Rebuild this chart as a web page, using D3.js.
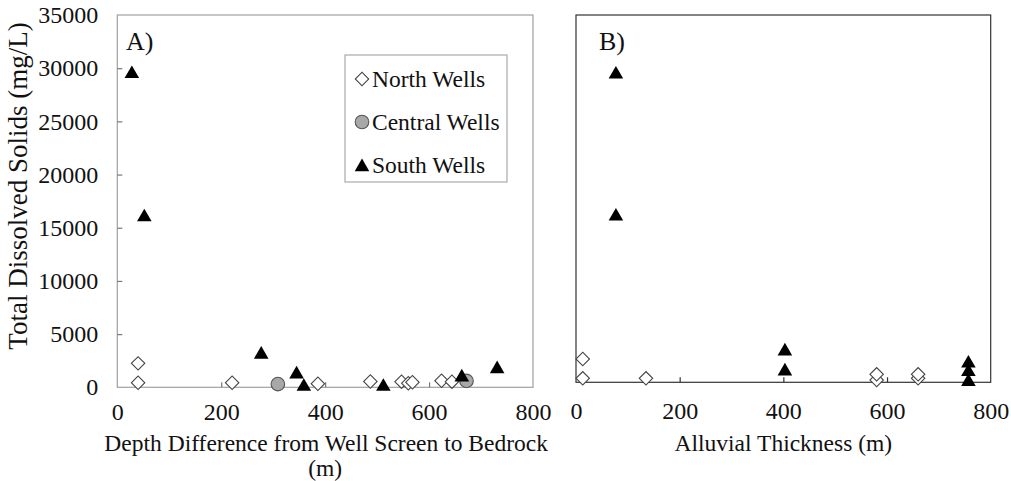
<!DOCTYPE html>
<html>
<head>
<meta charset="utf-8">
<script src="https://cdn.jsdelivr.net/npm/d3@7"></script>
<style>
  html, body { margin: 0; padding: 0; background: #ffffff; }
  svg { display: block; }
  text { font-family: "Liberation Serif", "Times New Roman", serif; fill: #111; }
</style>
</head>
<body>
<svg id="chart" width="1011" height="481"></svg>
<script>
// ---------- Data ----------
const xTicks = [0, 200, 400, 600, 800];
const yTicks = [0, 5000, 10000, 15000, 20000, 25000, 30000, 35000];
const seriesNames = ["North Wells", "Central Wells", "South Wells"];

// Panel A: depth difference from well screen to bedrock (m) vs TDS (mg/L)
const northA_x = [40, 40, 221, 386, 487, 547, 560, 568, 624, 644];
const northA_y = [2250, 430, 430, 330, 550, 530, 380, 470, 620, 530];
const centralA_x = [309, 672];
const centralA_y = [300, 600];
const southA_x = [28, 52, 277, 345, 359, 512, 663, 731];
const southA_y = [29470, 16000, 3090, 1230, 60, 60, 950, 1720];

// Panel B: alluvial thickness (m) vs TDS (mg/L)
const northB_x = [13, 13, 135, 580, 580, 660, 660];
const northB_y = [2220, 380, 380, 220, 760, 380, 760];
const southB_x = [77, 77, 403, 403, 757, 757, 757];
const southB_y = [29340, 15810, 2960, 1060, 1800, 1000, 50];

// ---------- Layout ----------
const svg = d3.select("#chart");
const font = '"Liberation Serif", "Times New Roman", serif';

const xA = d3.scaleLinear().domain([0, 800]).range([117.3, 533]);
const yA = d3.scaleLinear().domain([0, 35000]).range([387.3, 15]);
const xB = d3.scaleLinear().domain([0, 800]).range([576, 990.7]);
const yB = d3.scaleLinear().domain([0, 35000]).range([382.3, 15]);

const diamond = d3.symbol().type(d3.symbolSquare).size(90)();
const triangle = d3.symbol().type(d3.symbolTriangle).size(92)();

function frame(x, y, color) {
  svg.append("rect")
    .attr("x", x.range()[0]).attr("y", y.range()[1])
    .attr("width", x.range()[1] - x.range()[0])
    .attr("height", y.range()[0] - y.range()[1])
    .attr("fill", "none").attr("stroke", color).attr("stroke-width", 1.2);
}

function styleAxis(g, color) {
  g.select(".domain").remove();
  g.selectAll(".tick line").attr("stroke", color).attr("stroke-width", 1.2);
  g.selectAll(".tick text").attr("font-family", font).attr("font-size", 24).attr("fill", "#111");
}

// ---------- Panel A ----------
frame(xA, yA, "#a0a0a0");
const gxA = svg.append("g").attr("transform", `translate(0,${yA(0)})`)
  .call(d3.axisBottom(xA).tickValues(xTicks).tickSizeInner(-5).tickSizeOuter(0).tickPadding(16).tickFormat(d3.format("d")));
styleAxis(gxA, "#777");
gxA.selectAll(".tick line").filter(d => d === 0 || d === 800).remove();

const gyA = svg.append("g").attr("transform", `translate(${xA(0)},0)`)
  .call(d3.axisLeft(yA).tickValues(yTicks).tickSizeInner(-5).tickSizeOuter(0).tickPadding(19).tickFormat(d3.format("d")));
styleAxis(gyA, "#777");
gyA.selectAll(".tick line").filter(d => d === 0 || d === 35000).remove();

// ---------- Panel B ----------
frame(xB, yB, "#333");
const gxB = svg.append("g").attr("transform", `translate(0,${yB(0)})`)
  .call(d3.axisBottom(xB).tickValues(xTicks).tickSizeInner(-5).tickSizeOuter(0).tickPadding(20).tickFormat(d3.format("d")));
styleAxis(gxB, "#333");
gxB.selectAll(".tick line").filter(d => d === 0 || d === 800).remove();

// ---------- Marks ----------
function drawNorth(xs, ys, x, y) {
  svg.append("g").selectAll("path").data(xs.map((v, i) => [v, ys[i]])).join("path")
    .attr("d", diamond)
    .attr("transform", d => `translate(${x(d[0])},${y(d[1])}) rotate(45)`)
    .attr("fill", "#fff").attr("stroke", "#444").attr("stroke-width", 1.1);
}
function drawCentral(xs, ys, x, y) {
  svg.append("g").selectAll("circle").data(xs.map((v, i) => [v, ys[i]])).join("circle")
    .attr("cx", d => x(d[0])).attr("cy", d => y(d[1])).attr("r", 6.8)
    .attr("fill", "#a8a8a8").attr("stroke", "#555").attr("stroke-width", 1.1);
}
function drawSouth(xs, ys, x, y) {
  svg.append("g").selectAll("path").data(xs.map((v, i) => [v, ys[i]])).join("path")
    .attr("d", triangle)
    .attr("transform", d => `translate(${x(d[0])},${y(d[1])})`)
    .attr("fill", "#000");
}

drawNorth(northA_x, northA_y, xA, yA);
drawCentral(centralA_x, centralA_y, xA, yA);
drawSouth(southA_x, southA_y, xA, yA);

drawNorth(northB_x, northB_y, xB, yB);
drawSouth(southB_x, southB_y, xB, yB);

// ---------- Labels ----------
svg.append("text").attr("x", 126).attr("y", 50).attr("font-size", 26).text("A)");
svg.append("text").attr("x", 599).attr("y", 50).attr("font-size", 26).text("B)");

svg.append("text")
  .attr("transform", `translate(27,186) rotate(-90)`)
  .attr("text-anchor", "middle").attr("font-size", 27)
  .text("Total Dissolved Solids (mg/L)");

const cxA = (xA.range()[0] + xA.range()[1]) / 2;
svg.append("text").attr("x", cxA + 1).attr("y", 451).attr("text-anchor", "middle").attr("font-size", 23.5)
  .text("Depth Difference from Well Screen to Bedrock");
svg.append("text").attr("x", cxA).attr("y", 476).attr("text-anchor", "middle").attr("font-size", 23.5)
  .text("(m)");

const cxB = (xB.range()[0] + xB.range()[1]) / 2;
svg.append("text").attr("x", cxB).attr("y", 451).attr("text-anchor", "middle").attr("font-size", 23.5)
  .text("Alluvial Thickness (m)");

// ---------- Legend ----------
const legend = svg.append("g");
legend.append("rect").attr("x", 345).attr("y", 55).attr("width", 162).attr("height", 127)
  .attr("fill", "#fff").attr("stroke", "#aaa").attr("stroke-width", 1.2);
const legY = d3.scalePoint().domain(seriesNames).range([79, 165]);
seriesNames.forEach((name, i) => {
  const cy = legY(name);
  if (i === 0) {
    legend.append("path").attr("d", diamond).attr("transform", `translate(362,${cy}) rotate(45)`)
      .attr("fill", "#fff").attr("stroke", "#444").attr("stroke-width", 1.1);
  } else if (i === 1) {
    legend.append("circle").attr("cx", 362).attr("cy", cy).attr("r", 6.8)
      .attr("fill", "#a8a8a8").attr("stroke", "#555").attr("stroke-width", 1.1);
  } else {
    legend.append("path").attr("d", triangle).attr("transform", `translate(362,${cy + 2})`).attr("fill", "#000");
  }
  legend.append("text").attr("x", 372).attr("y", cy + 8).attr("font-size", 23.5).text(name);
});
</script>
</body>
</html>
